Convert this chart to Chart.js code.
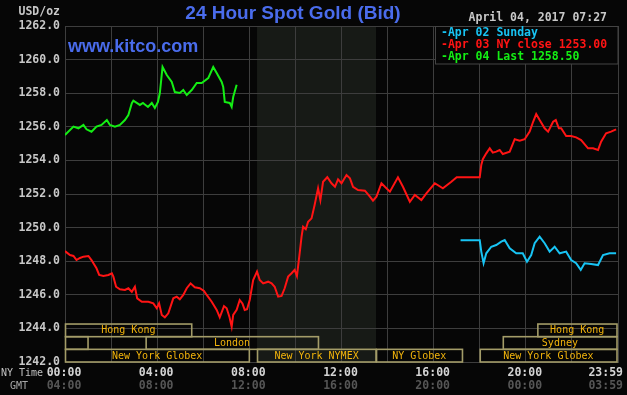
<!DOCTYPE html>
<html>
<head>
<meta charset="utf-8">
<script src="https://cdn.jsdelivr.net/npm/chart.js@4.4.1/dist/chart.umd.min.js"></script>
<style>
  html, body { margin: 0; padding: 0; background: #060606; }
  canvas { display: block; }
</style>
</head>
<body>
<canvas id="graficoOro" width="627" height="395"></canvas>
<script>
// minutes after NY midnight, price in USD/oz
const minutosApr04 = [0,22,35,48,56,69,82,95,109,117,130,143,156,165,174,178,195,203,216,226,234,242,247,254,265,278,286,299,308,317,330,343,356,373,386,395,408,412,416,429,434,438,447];
const precioApr04 = [1255.51,1256.01,1255.91,1256.11,1255.85,1255.71,1256.01,1256.11,1256.40,1256.11,1256.01,1256.11,1256.40,1256.70,1257.40,1257.55,1257.30,1257.42,1257.18,1257.42,1257.12,1257.48,1258.01,1259.56,1259.08,1258.67,1258.07,1258.01,1258.19,1257.89,1258.19,1258.61,1258.61,1258.90,1259.56,1259.20,1258.67,1258.37,1257.48,1257.42,1257.18,1257.77,1258.50];

const minutosApr03 = [0,13,22,30,39,48,61,69,74,82,89,100,113,122,126,133,143,156,165,174,182,188,200,217,230,239,245,252,260,269,282,291,299,308,317,327,338,351,362,369,382,395,403,414,421,428,434,438,447,455,462,468,474,481,490,500,507,516,529,538,546,555,564,572,581,590,598,604,611,616,620,627,633,642,650,659,665,672,683,694,703,711,720,733,742,750,763,781,794,802,811,824,833,846,867,880,898,911,928,941,963,984,1006,1020,1080,1084,1088,1097,1106,1114,1123,1132,1140,1158,1171,1184,1197,1210,1219,1227,1236,1249,1258,1271,1278,1286,1292,1305,1318,1331,1344,1362,1375,1388,1396,1409,1422,1435];
const precioApr03 = [1248.60,1248.37,1248.31,1248.07,1248.19,1248.27,1248.31,1248.07,1247.88,1247.58,1247.18,1247.12,1247.18,1247.28,1247.08,1246.48,1246.33,1246.29,1246.39,1246.18,1246.48,1245.79,1245.59,1245.59,1245.49,1245.20,1245.49,1244.80,1244.66,1244.90,1245.79,1245.89,1245.73,1245.99,1246.39,1246.68,1246.45,1246.39,1246.23,1245.99,1245.59,1245.10,1244.66,1245.33,1245.20,1244.70,1244.10,1244.80,1245.10,1245.69,1245.49,1245.10,1245.14,1245.69,1246.88,1247.38,1246.88,1246.68,1246.78,1246.68,1246.48,1245.89,1245.93,1246.39,1247.08,1247.28,1247.48,1247.12,1248.47,1249.46,1250.05,1249.90,1250.35,1250.55,1251.35,1252.34,1251.64,1252.73,1253.00,1252.64,1252.43,1252.87,1252.64,1253.13,1252.93,1252.43,1252.24,1252.20,1251.84,1251.60,1251.84,1252.64,1252.43,1252.14,1252.99,1252.43,1251.54,1251.94,1251.64,1252.04,1252.64,1252.34,1252.73,1253.00,1253.00,1253.73,1254.07,1254.42,1254.72,1254.46,1254.52,1254.62,1254.38,1254.52,1255.26,1255.17,1255.26,1255.71,1256.30,1256.76,1256.40,1255.91,1255.71,1256.30,1256.40,1255.91,1255.91,1255.45,1255.45,1255.37,1255.21,1254.72,1254.72,1254.62,1255.11,1255.61,1255.71,1255.85];

const minutosApr02 = [1030,1080,1084,1090,1097,1110,1123,1136,1145,1158,1175,1192,1203,1214,1223,1236,1249,1262,1275,1288,1305,1318,1331,1343,1353,1370,1388,1401,1418,1435];
const precioApr02 = [1249.25,1249.25,1248.57,1247.88,1248.47,1248.86,1248.96,1249.16,1249.26,1248.77,1248.47,1248.47,1247.97,1248.37,1249.07,1249.46,1249.07,1248.57,1248.86,1248.47,1248.57,1248.07,1247.88,1247.48,1247.88,1247.83,1247.77,1248.37,1248.47,1248.47];

const leyendas = ['-Apr 02 Sunday', '-Apr 03 NY close 1253.00', '-Apr 04 Last 1258.50'];
const fechaHora = 'April 04, 2017 07:27';

const horasNY = ['00:00','04:00','08:00','12:00','16:00','20:00','23:59'];
const horasGMT = ['04:00','08:00','12:00','16:00','20:00','00:00','03:59'];
const minutosEtiqueta = [0,240,480,720,960,1200,1439];
const minutosRejilla = [0,120,240,360,480,600,720,840,960,1080,1200,1320,1440];

// NYMEX pit hours (shaded)
const nymexInicio = 500, nymexFin = 810;

const sesiones = ['Hong Kong','Hong Kong','','London','Sydney','New York Globex','New York NYMEX','NY Globex','New York Globex'];
const sesionInicio = [0,1230,0,210,1140,0,500,810,1080];
const sesionFin = [330,1440,60,660,1440,480,810,1035,1440];
const sesionFila = [0,0,1,1,1,2,2,2,2];

const colores = ['#18c4f4', '#ff1414', '#14ee14'];
const fuenteMono = 'DejaVu Sans Mono';

function puntos(xs, ys){ return xs.map((m, i) => ({x: m, y: ys[i]})); }

const fondo = {
    id: 'fondo',
    beforeDraw(chart){
        const c = chart.ctx, a = chart.chartArea, x = chart.scales.x;
        c.save();
        c.fillStyle = '#060606';
        c.fillRect(0, 0, chart.width, chart.height);
        c.fillStyle = '#171a16';
        const x1 = x.getPixelForValue(nymexInicio), x2 = x.getPixelForValue(nymexFin);
        c.fillRect(x1, a.top, x2 - x1, a.bottom - a.top);
        c.restore();
    }
};

const adornos = {
    id: 'adornos',
    afterDatasetsDraw(chart){
        const c = chart.ctx, a = chart.chartArea, x = chart.scales.x;
        c.save();

        // sesiones de mercado
        const altoFila = (a.bottom - a.top) / 20 * 0.7533 ;
        c.lineWidth = 1.6;
        c.strokeStyle = '#a39c68';
        c.font = '10px ' + fuenteMono;
        c.textAlign = 'center';
        c.textBaseline = 'middle';
        sesiones.forEach((nombre, i) => {
            const x1 = x.getPixelForValue(sesionInicio[i]);
            const x2 = Math.min(x.getPixelForValue(sesionFin[i]), a.right - 1);
            const y2 = a.bottom - (2 - sesionFila[i]) * altoFila;
            const y1 = y2 - altoFila;
            c.strokeRect(x1 + 0.5, y1, x2 - x1 - 0.5, altoFila);
            if(nombre){
                c.fillStyle = '#f2b40c';
                c.fillText(nombre, (x1 + x2) / 2, (y1 + y2) / 2 + 0.5);
            }
        });

        // caja de leyenda
        c.fillStyle = '#060606';
        c.fillRect(435, a.top, a.right - 435, 38);
        c.strokeStyle = '#444';
        c.lineWidth = 1;
        c.strokeRect(435.5, a.top + 0.5, a.right - 435.5, 37.5);
        c.font = 'bold 11.5px ' + fuenteMono;
        c.textAlign = 'left';
        c.textBaseline = 'middle';
        leyendas.forEach((t, i) => {
            c.fillStyle = colores[i];
            c.fillText(t, 441, a.top + 7.5 + i * 11.7);
        });
        c.restore();
    },
    afterDraw(chart){
        const c = chart.ctx, a = chart.chartArea, x = chart.scales.x;
        c.save();
        c.textBaseline = 'middle';

        // titulo y sitio
        c.fillStyle = '#4a6cec';
        c.font = 'bold 19px "Liberation Sans", Arial, sans-serif';
        c.textAlign = 'center';
        c.fillText('24 Hour Spot Gold (Bid)', 293, 14);
        c.font = 'bold 18px "Liberation Sans", Arial, sans-serif';
        c.textAlign = 'left';
        c.fillText('www.kitco.com', 68, 47);

        // fecha
        c.fillStyle = '#c8c8c8';
        c.font = 'bold 11.5px ' + fuenteMono;
        c.textAlign = 'right';
        c.fillText(fechaHora, 607, 18);
        c.fillText('USD/oz', a.left - 5, 12);

        // eje de horas
        c.textAlign = 'left';
        c.font = '10px ' + fuenteMono;
        c.fillStyle = '#c0c0c0';
        c.fillText('NY Time', 1, 373);
        c.fillStyle = '#a8a8a8';
        c.fillText('GMT', 10, 386);
        c.font = 'bold 11.5px ' + fuenteMono;
        c.textAlign = 'center';
        minutosEtiqueta.forEach((m, i) => {
            const mitad = c.measureText(horasNY[i]).width / 2;
            const px = Math.min(x.getPixelForValue(m) - 1, chart.width - mitad - 4);
            c.fillStyle = '#d4d4d4';
            c.fillText(horasNY[i], px, 373);
            c.fillStyle = '#565656';
            c.fillText(horasGMT[i], px, 386);
        });
        c.restore();
    }
};

const ctx = document.getElementById('graficoOro').getContext('2d');
const graficoOro = new Chart(ctx, {
    type: 'line',
    data: {
        datasets: [
            {data: puntos(minutosApr02, precioApr02), borderColor: colores[0]},
            {data: puntos(minutosApr03, precioApr03), borderColor: colores[1]},
            {data: puntos(minutosApr04, precioApr04), borderColor: colores[2]}
        ].map(d => Object.assign(d, {borderWidth: 2, pointRadius: 0, tension: 0, fill: false}))
    },
    options: {
        responsive: false,
        animation: false,
        devicePixelRatio: 1,
        layout: {padding: {top: 26, right: 9, bottom: 33, left: 0}},
        plugins: {legend: {display: false}, tooltip: {enabled: false}},
        scales: {
            x: {
                type: 'linear', min: 0, max: 1440,
                afterBuildTicks: s => { s.ticks = minutosRejilla.map(v => ({value: v})); },
                ticks: {display: false},
                grid: {color: '#3d3d3d', drawTicks: false},
                border: {color: '#3d3d3d'}
            },
            y: {
                min: 1242, max: 1262,
                afterFit: s => { s.width = 65; },
                ticks: {
                    stepSize: 2, padding: 5, color: '#c8c8c8',
                    font: {family: fuenteMono, weight: 'bold', size: 11.5},
                    callback: v => v.toFixed(1)
                },
                grid: {color: '#3d3d3d', drawTicks: false},
                border: {color: '#3d3d3d'}
            }
        }
    },
    plugins: [fondo, adornos]
});
</script>
</body>
</html>
